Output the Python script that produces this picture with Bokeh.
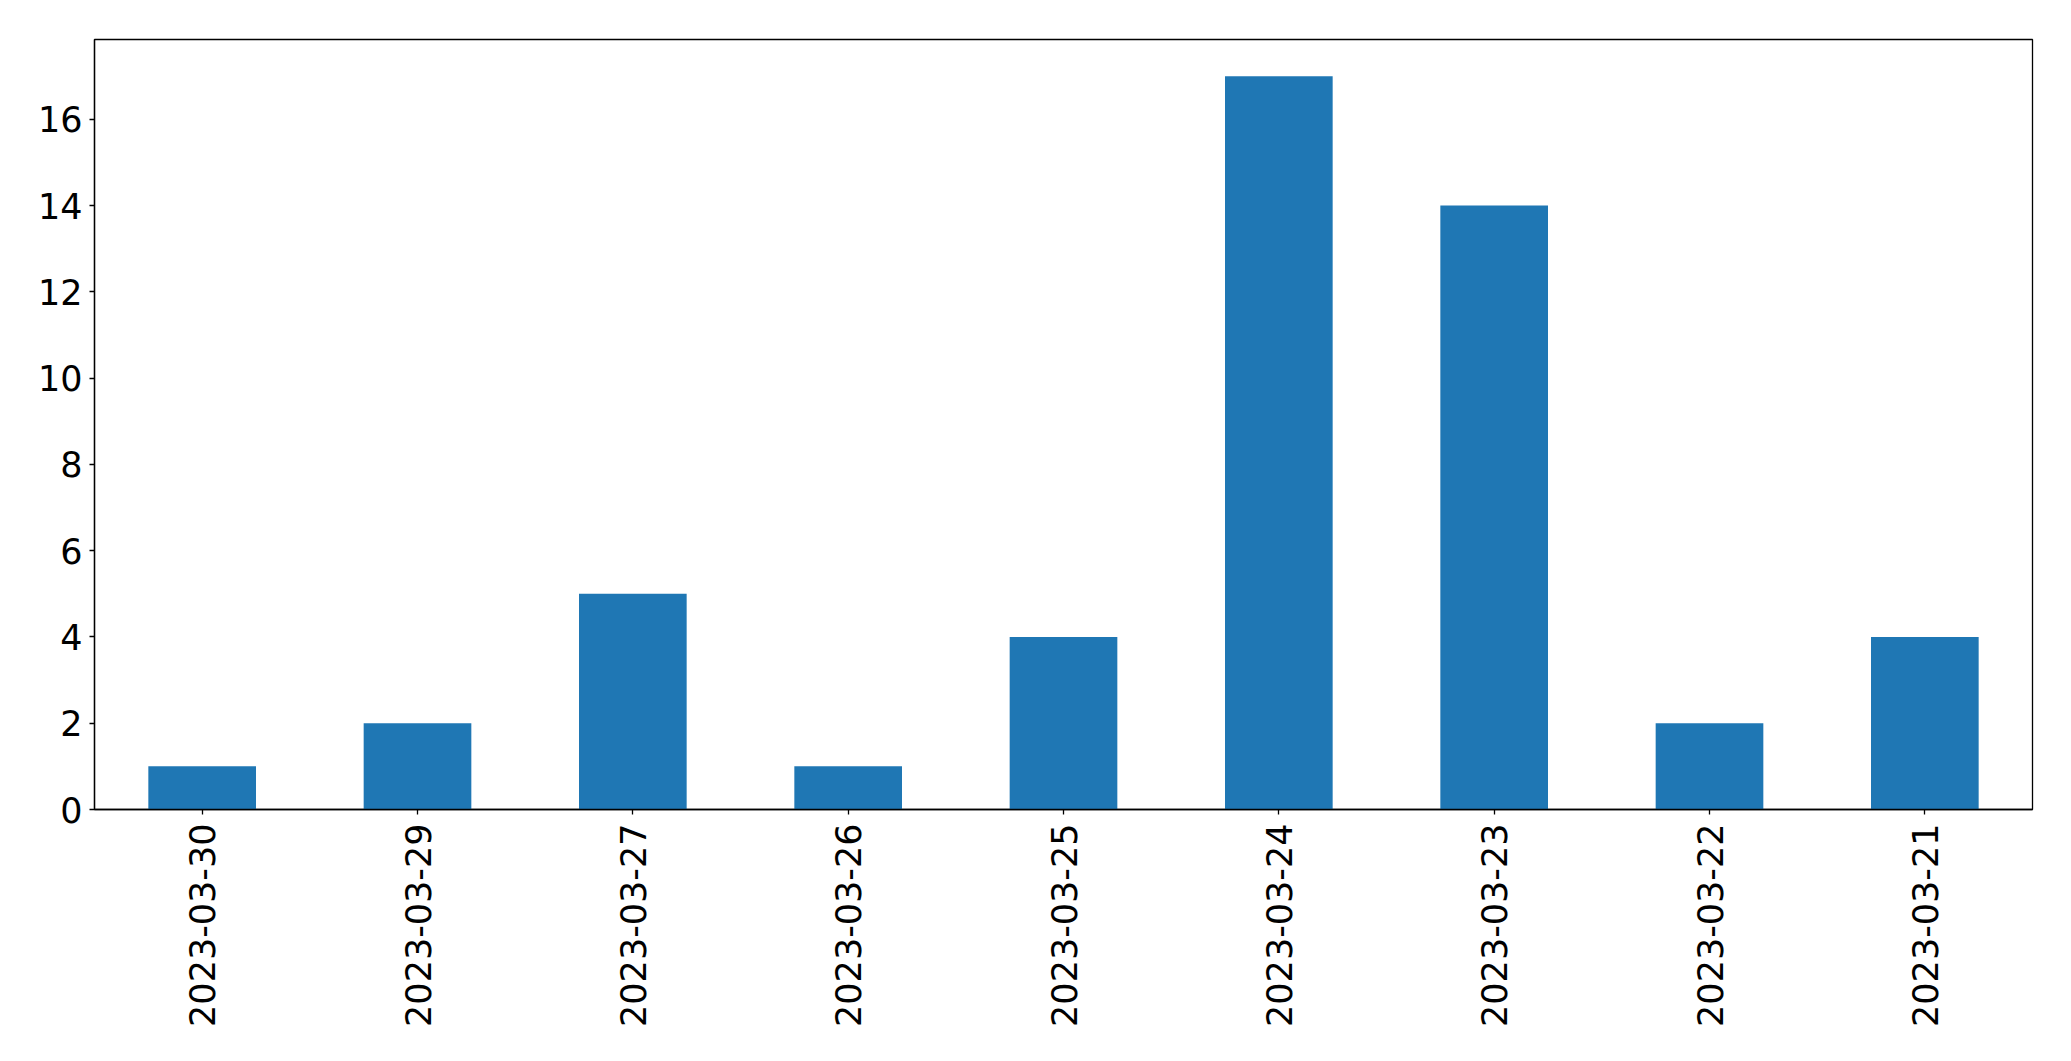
import math
from bokeh.plotting import figure
from bokeh.models import FactorRange, Range1d, SingleIntervalTicker, ColumnDataSource
from bokeh.embed import file_html
from bokeh.resources import INLINE

dates = ["2023-03-30", "2023-03-29", "2023-03-27", "2023-03-26", "2023-03-25",
         "2023-03-24", "2023-03-23", "2023-03-22", "2023-03-21"]
counts = [1, 2, 5, 1, 4, 17, 14, 2, 4]

src = ColumnDataSource(dict(date=dates, count=counts))

p = figure(x_range=FactorRange(factors=dates, range_padding=0),
           y_range=Range1d(0, 17.85),
           frame_width=1938, frame_height=770,
           min_border_left=94, min_border_top=39, min_border_right=31, min_border_bottom=236,
           output_backend="svg", toolbar_location=None)
p.vbar(x="date", top="count", width=0.5, source=src, color="#1f77b4", line_color=None)

p.xgrid.visible = False
p.ygrid.visible = False
p.outline_line_color = "black"
p.outline_line_width = 1.3

for ax in (p.xaxis[0], p.yaxis[0]):
    ax.major_label_text_font = "DejaVu Sans"
    ax.major_label_text_font_size = "35px"
    ax.major_label_text_color = "black"
    ax.axis_line_color = "black"
    ax.axis_line_width = 1.3
    ax.major_tick_line_color = "black"
    ax.major_tick_line_width = 1.3
    ax.major_tick_out = 5
    ax.major_tick_in = 0
    ax.minor_tick_line_color = None
    ax.major_label_standoff = 7

p.xaxis.major_label_standoff = 9
p.yaxis.ticker = SingleIntervalTicker(interval=2)
p.xaxis.major_label_orientation = math.pi / 2

open("out.html", "w").write(file_html(p, INLINE))
